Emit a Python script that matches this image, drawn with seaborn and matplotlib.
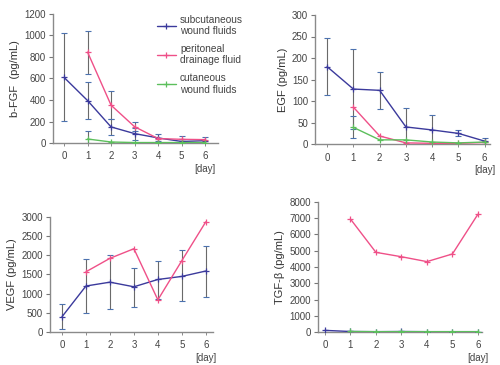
"""Cytokine levels in wound fluids over the post-operative days."""

import matplotlib
matplotlib.use("Agg")

import matplotlib.pyplot as plt
import numpy as np
import pandas as pd
import seaborn as sns

nan = np.nan
DAYS = [0, 1, 2, 3, 4, 5, 6]
SERIES = ["subcutaneous\nwound fluids", "peritoneal\ndrainage fluid", "cutaneous\nwound fluids"]
COLORS = ["#3b3a9c", "#ef5088", "#5cbf5c"]

# b-FGF
bfgf_sub = [610, 395, 150, 88, 48, 15, 22]
bfgf_per = [nan, 845, 352, 152, 42, 35, 32]
bfgf_cut = [nan, 38, 10, 5, 5, 5, 5]
bfgf_sub_lo = [205, 225, 78, 30, 20, 0, 5]
bfgf_sub_hi = [1025, 565, 220, 140, 80, 65, 55]
bfgf_per_lo = [nan, 645, 220, 112, nan, nan, nan]
bfgf_per_hi = [nan, 1045, 487, 192, nan, nan, nan]
bfgf_cut_lo = [nan, 0, nan, nan, nan, nan, nan]
bfgf_cut_hi = [nan, 112, nan, nan, nan, nan, nan]

# EGF
egf_sub = [180, 128, 125, 40, 33, 25, 7]
egf_per = [nan, 86, 19, 3, 2, 2, 4]
egf_cut = [nan, 39, 10, 10, 5, 3, 5]
egf_sub_lo = [114, 35, 81, 0, 0, 19, 0]
egf_sub_hi = [246, 222, 168, 84, 67, 32, 15]
egf_cut_lo = [nan, 15, nan, nan, nan, nan, nan]
egf_cut_hi = [nan, 65, nan, nan, nan, nan, nan]

# VEGF
vegf_sub = [400, 1200, 1300, 1180, 1370, 1450, 1590]
vegf_per = [nan, 1570, 1920, 2170, 840, 1860, 2870]
vegf_sub_lo = [70, 500, 590, 650, 850, 800, 920]
vegf_sub_hi = [720, 1910, 2000, 1680, 1860, 2130, 2230]

# TGF-beta
tgf_sub = [110, 40, 30, 40, 30, 30, 30]
tgf_per = [nan, 6950, 4900, 4630, 4330, 4800, 7240]
tgf_cut = [nan, 40, 30, 30, 30, 30, 30]


def long_frame(values):
    rows = []
    for name, vals in zip(SERIES, values):
        if vals is None:
            continue
        for d, v in zip(DAYS, vals):
            if not np.isnan(v):
                rows.append({"day": d, "value": v, "fluid": name})
    return pd.DataFrame(rows)


def fix_markers(lines):
    # '+' markers are drawn with the edge colour, which seaborn sets to white
    for line in lines:
        line.set_markeredgecolor(line.get_color())


def draw_panel(ax, values, errors, ylabel, ylim, yticks, xlim, legend=False):
    df = long_frame(values)
    for lo, hi, mid in errors:
        lo = np.array(lo, float)
        hi = np.array(hi, float)
        mid = np.array(mid, float)
        ok = ~np.isnan(lo)
        x = np.array(DAYS)[ok]
        ax.errorbar(x, mid[ok], yerr=[mid[ok] - lo[ok], hi[ok] - mid[ok]], fmt="none",
                    ecolor="#6a6a6a", elinewidth=0.8, capsize=2.5, capthick=0.8, zorder=1)
    sns.lineplot(data=df, x="day", y="value", hue="fluid", hue_order=SERIES,
                 palette=COLORS, marker="+", markersize=5, markeredgewidth=0.9,
                 linewidth=1.0, dashes=False, ax=ax, legend=legend, zorder=3)
    fix_markers(ax.lines)
    ax.set_xlim(*xlim)
    ax.set_ylim(*ylim)
    ax.set_yticks(yticks)
    ax.set_xticks(DAYS)
    ax.set_xlabel("")
    ax.set_ylabel(ylabel, fontsize=8, color="#333333", labelpad=3)
    ax.tick_params(axis="y", length=3, width=0.8, color="#777777", labelsize=7, labelcolor="#444444", pad=2)
    ax.tick_params(axis="x", length=2, width=0.6, color="#777777", labelsize=7, labelcolor="#444444", pad=4)
    for s in ("left", "bottom"):
        ax.spines[s].set_color("#8a8a8a")
        ax.spines[s].set_linewidth(1.0)
    sns.despine(ax=ax)
    ax.annotate("[day]", xy=(6, 0), xycoords=("data", "axes fraction"),
                xytext=(0, -15), textcoords="offset points", ha="center", va="top",
                fontsize=7, color="#444444")


def main():
    sns.set_theme(style="ticks")
    plt.rcParams["font.family"] = ["Liberation Sans", "DejaVu Sans"]
    fig = plt.figure(figsize=(5, 3.65), dpi=100)

    ax1 = fig.add_axes([0.106, 0.608, 0.330, 0.354])
    draw_panel(ax1, [bfgf_sub, bfgf_per, bfgf_cut],
               [(bfgf_sub_lo, bfgf_sub_hi, bfgf_sub), (bfgf_per_lo, bfgf_per_hi, bfgf_per),
                (bfgf_cut_lo, bfgf_cut_hi, bfgf_cut)],
               "b-FGF  (pg/mL)", (0, 1200), range(0, 1201, 200), (-0.47, 6.55), legend=True)
    handles, labels = ax1.get_legend_handles_labels()
    fix_markers(handles)
    ax1.legend(handles, labels, loc="upper left", bbox_to_anchor=(0.295, 0.985),
               bbox_transform=fig.transFigure, frameon=False, fontsize=7.3,
               handlelength=1.9, handletextpad=0.4, labelspacing=0.75,
               labelcolor="#444444")

    ax2 = fig.add_axes([0.630, 0.605, 0.350, 0.354])
    draw_panel(ax2, [egf_sub, egf_per, egf_cut],
               [(egf_sub_lo, egf_sub_hi, egf_sub), (egf_cut_lo, egf_cut_hi, egf_cut)],
               "EGF (pg/mL)", (0, 300), range(0, 301, 50), (-0.46, 6.2))

    ax3 = fig.add_axes([0.100, 0.090, 0.326, 0.316])
    draw_panel(ax3, [vegf_sub, vegf_per, None],
               [(vegf_sub_lo, vegf_sub_hi, vegf_sub)],
               "VEGF (pg/mL)", (0, 3000), range(0, 3001, 500), (-0.5, 6.3))

    ax4 = fig.add_axes([0.636, 0.090, 0.328, 0.357])
    draw_panel(ax4, [tgf_sub, tgf_per, tgf_cut], [],
               "TGF-β (pg/mL)", (0, 8000), range(0, 8001, 1000), (-0.27, 6.16))

    fig.savefig("out.png", dpi=100)
    plt.close(fig)


if __name__ == "__main__":
    main()
